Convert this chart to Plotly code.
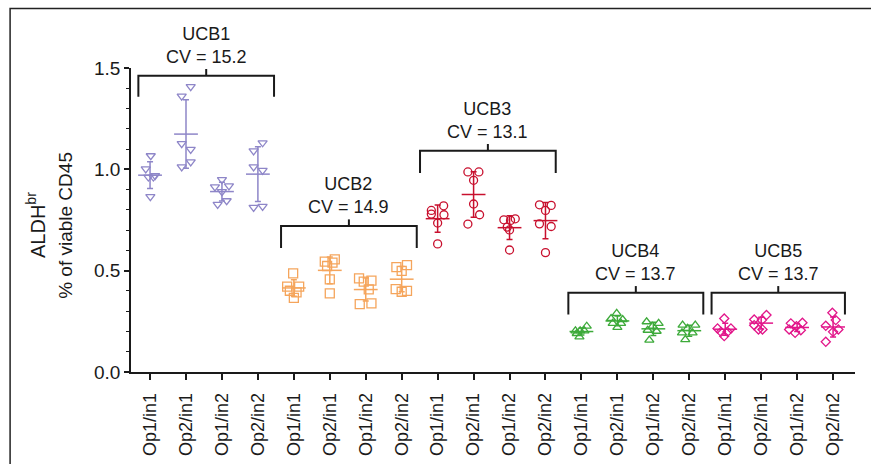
import numpy as np
import plotly.graph_objects as go

# ---- data -------------------------------------------------------------
conditions = ["Op1/in1", "Op2/in1", "Op1/in2", "Op2/in2"]
samples = ["UCB1", "UCB2", "UCB3", "UCB4", "UCB5"]
cv_values = [15.2, 14.9, 13.1, 13.7, 13.7]

ucb1 = [[1.067, 1.002, 0.962, 0.962, 0.969, 0.865],
        [1.408, 1.361, 1.127, 1.098, 1.037, 1.012],
        [0.949, 0.913, 0.918, 0.890, 0.827, 0.845],
        [1.131, 1.091, 1.012, 0.995, 0.812, 0.817]]
ucb2 = [[0.487, 0.421, 0.421, 0.401, 0.393, 0.366],
        [0.545, 0.556, 0.540, 0.523, 0.457, 0.388],
        [0.462, 0.446, 0.451, 0.408, 0.335, 0.339],
        [0.517, 0.527, 0.499, 0.409, 0.396, 0.400]]
ucb3 = [[0.820, 0.797, 0.776, 0.779, 0.735, 0.632],
        [0.987, 0.987, 0.946, 0.829, 0.776, 0.730],
        [0.751, 0.756, 0.748, 0.715, 0.701, 0.602],
        [0.825, 0.822, 0.797, 0.731, 0.718, 0.589]]
ucb4 = [[0.226, 0.203, 0.203, 0.203, 0.190, 0.173],
        [0.289, 0.264, 0.259, 0.240, 0.240, 0.220],
        [0.248, 0.240, 0.226, 0.206, 0.201, 0.157],
        [0.231, 0.231, 0.215, 0.193, 0.193, 0.160]]
ucb5 = [[0.264, 0.215, 0.215, 0.198, 0.198, 0.177],
        [0.281, 0.259, 0.256, 0.231, 0.210, 0.210],
        [0.240, 0.243, 0.226, 0.210, 0.206, 0.193],
        [0.292, 0.256, 0.228, 0.210, 0.198, 0.149]]
values = [ucb1, ucb2, ucb3, ucb4, ucb5]

# ---- horizontal scatter of the replicate points (pixels) ---------------
jitter_px = [
    [[0.7, -4.3, -1.7, 3.3, 5.0, 0.3], [4.7, -4.3, -4.3, 4.7, 4.7, -4.3],
     [0.0, -7.0, 7.0, 0.0, -4.3, 4.7], [4.7, -4.3, -4.3, 4.7, -4.3, 4.7]],
    [[-0.7, -6.7, 5.3, -4.0, 2.7, 0.0], [-5.0, 5.0, 2.7, -2.7, 0.0, 0.0],
     [-6.7, -2.0, 5.7, 3.0, -6.0, 5.7], [-5.3, 5.3, 0.0, -6.0, 0.0, 5.3]],
    [[6.0, -6.3, 6.3, -6.3, 0.0, 0.0], [-5.7, 5.3, 0.0, 0.0, 6.0, -5.7],
     [-5.7, 5.7, 1.0, -2.3, 0.0, 0.0], [-6.0, 5.7, 0.0, -6.0, 5.7, 0.0]],
    [[5.3, -6.0, -1.3, 3.0, -4.7, -2.0], [-0.7, -6.3, 5.3, -4.7, 3.7, 0.0],
     [-6.7, 5.3, -0.7, -5.7, 3.3, -4.0], [-6.7, 6.0, -1.7, -7.3, 3.3, -4.0]],
    [[-1.0, -7.7, 5.7, -4.3, 2.3, -1.0], [5.3, -7.0, 0.7, -7.0, -2.7, 1.3],
     [-6.3, 5.3, -0.7, -8.0, 3.7, -2.0], [-0.7, 2.7, -7.3, 5.3, 0.0, -7.3]],
]
CAT_PX = 35.95  # pixel spacing between neighbouring categories

# ---- styling ----------------------------------------------------------
colors = ["#8E86C8", "#F5A55C", "#C8102E", "#3DAA3A", "#E2168A"]
symbols = ["triangle-down-open", "square-open", "circle-open",
           "triangle-up-open", "diamond-open"]
marker_sizes = [8, 9, 8, 8, 7]

# bracket geometry per sample: (left x, right x, bar level, leg end)
brackets = [(-0.325, 3.449, 1.462, 1.358),
            (3.644, 7.419, 0.720, 0.612),
            (7.510, 11.285, 1.092, 0.982),
            (11.636, 15.390, 0.391, 0.284),
            (15.620, 19.330, 0.391, 0.284)]

FONT = "Liberation Sans, Arial, Helvetica, sans-serif"
fig = go.Figure()

for s, sample in enumerate(samples):
    for c in range(len(conditions)):
        idx = s * len(conditions) + c
        ys = np.array(values[s][c])
        xs = idx + np.array(jitter_px[s][c]) / CAT_PX
        fig.add_trace(go.Scatter(
            x=xs, y=ys, mode="markers", showlegend=False,
            marker=dict(symbol=symbols[s], size=marker_sizes[s], color=colors[s],
                        line=dict(color=colors[s], width=1.3)),
            hoverinfo="y"))
        mean = ys.mean()
        sd = ys.std(ddof=1)
        fig.add_trace(go.Scatter(
            x=[idx], y=[mean], mode="markers", showlegend=False,
            marker=dict(symbol="line-ew", size=17, color=colors[s],
                        line=dict(color=colors[s], width=1.5)),
            error_y=dict(type="data", array=[sd], visible=True, width=3,
                         thickness=1.5, color=colors[s]),
            hoverinfo="y"))

shapes = []
annotations = []
for s, (x0, x1, top, leg) in enumerate(brackets):
    xm = (x0 + x1) / 2
    shapes.append(dict(type="path", xref="x", yref="y",
                       path=f"M{x0},{leg} L{x0},{top} L{x1},{top} L{x1},{leg}",
                       line=dict(color="#1a1a1a", width=2)))
    shapes.append(dict(type="line", xref="x", yref="y", x0=xm, x1=xm,
                       y0=top, y1=top + 0.033,
                       line=dict(color="#1a1a1a", width=2)))
    annotations.append(dict(
        x=xm, y=top + 0.033, xref="x", yref="y", yanchor="bottom",
        showarrow=False, yshift=0,
        text=f"{samples[s]}<br>CV = {cv_values[s]}",
        font=dict(family=FONT, size=18, color="#1a1a1a")))

# y-axis title, two lines
annotations.append(dict(x=-0.131, y=0.484, xref="paper", yref="paper",
                        xanchor="center", yanchor="middle",
                        text="ALDH<sup>br</sup>", textangle=-90, showarrow=False,
                        font=dict(family=FONT, size=20, color="#1a1a1a")))
annotations.append(dict(x=-0.0898, y=0.484, xref="paper", yref="paper",
                        xanchor="center", yanchor="middle",
                        text="% of viable CD45", textangle=-90, showarrow=False,
                        font=dict(family=FONT, size=19, color="#1a1a1a")))

# outer frame
shapes.append(dict(type="path", xref="paper", yref="paper",
                   path="M-0.167,-0.4 L-0.167,1.196 L1.159,1.196",
                   line=dict(color="#222222", width=1.5)))
shapes.append(dict(type="line", xref="paper", yref="paper",
                   x0=1.159, x1=1.159, y0=1.196, y1=-0.4,
                   line=dict(color="#888888", width=1.5)))

n_cat = len(samples) * len(conditions)
fig.update_layout(
    width=871, height=464,
    margin=dict(l=131, r=16, t=68, b=92, autoexpand=False),
    paper_bgcolor="white", plot_bgcolor="white",
    font=dict(family=FONT, size=18, color="#1a1a1a"),
    shapes=shapes, annotations=annotations,
    xaxis=dict(range=[-0.53, 19.61], tickmode="array",
               tickvals=list(range(n_cat)),
               ticktext=conditions * len(samples), tickangle=-90,
               showline=True, linecolor="#1a1a1a", linewidth=1.5,
               ticks="outside", ticklen=6, tickwidth=1.5, tickcolor="#1a1a1a",
               ticklabelstandoff=6, automargin=False,
               showgrid=False, zeroline=False,
               tickfont=dict(family=FONT, size=18, color="#1a1a1a")),
    yaxis=dict(range=[0, 1.5], tickvals=[0, 0.5, 1.0, 1.5], tickformat=".1f",
               showline=True, linecolor="#1a1a1a", linewidth=1.5,
               ticks="outside", ticklen=5, tickwidth=1.5, tickcolor="#1a1a1a",
               automargin=False,
               minor=dict(dtick=0.1, ticks="outside", ticklen=3, tickwidth=1,
                          tickcolor="#1a1a1a"),
               showgrid=False, zeroline=False,
               tickfont=dict(family=FONT, size=19, color="#1a1a1a")),
)

fig.write_html("out.html")
